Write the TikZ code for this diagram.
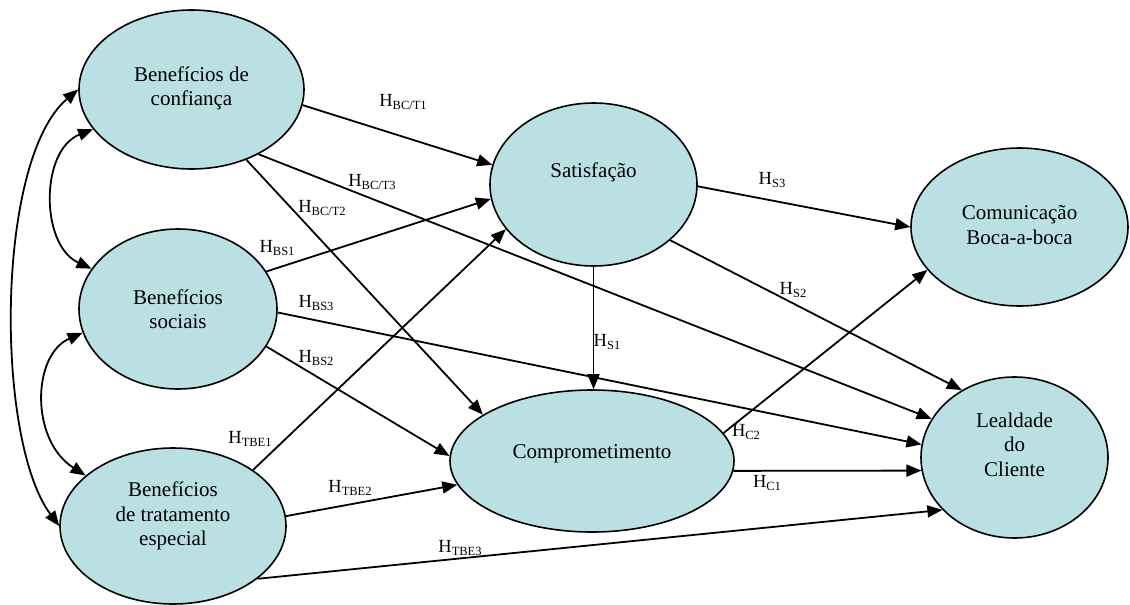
\documentclass[tikz,border=0pt]{standalone}
\usepackage{fontspec}
\setmainfont{Liberation Serif}
\usetikzlibrary{shapes.geometric,arrows.meta}
\definecolor{constructfill}{RGB}{186,224,228}

% hypothesis label: H with a lowered, smaller index
\newcommand{\hyplabel}[1]{H\raisebox{-2.8pt}{\fontsize{12.5}{12.5}\selectfont #1}}

\begin{document}
\begin{tikzpicture}[x=1pt,y=-1pt,
  construct/.style={ellipse, draw=black, line width=1.6pt, fill=constructfill, inner sep=0pt},
  txt/.style={align=center, font=\fontsize{21}{24.5}\selectfont, inner sep=0pt},
  link/.style={line width=1.8pt, -{Triangle[length=15pt,width=12pt]}},
  bothway/.style={line width=1.8pt, {Triangle[length=15pt,width=12pt]}-{Triangle[length=15pt,width=12pt]}},
  hyp/.style={font=\fontsize{18.5}{19}\selectfont, inner sep=0pt}
]
\useasboundingbox (0,0) rectangle (1130,605);

% constructs
\node[construct, minimum width=225pt, minimum height=159pt,
      label={[txt,yshift=1pt]center:Benefícios de\\confiança}] (bc) at (191.5,89.5) {};
\node[construct, minimum width=198pt, minimum height=160pt,
      label={[txt]center:Benefícios\\sociais}] (bs) at (178,309) {};
\node[construct, minimum width=226pt, minimum height=156pt,
      label={[txt,yshift=10pt]center:Benefícios\\de tratamento\\especial}] (te) at (173,526) {};
\node[construct, minimum width=207pt, minimum height=163pt,
      label={[txt,yshift=12pt]center:Satisfação}] (sat) at (593.5,184.5) {};
\node[construct, minimum width=284pt, minimum height=142pt,
      label={[txt,yshift=7pt]center:Comprometimento}] (cm) at (592,461) {};
\node[construct, minimum width=217pt, minimum height=158pt,
      label={[txt,yshift=2pt]center:Comunicação\\Boca-a-boca}] (cw) at (1019.5,227) {};
\node[construct, minimum width=187pt, minimum height=161pt,
      label={[txt,yshift=13pt]center:Lealdade\\do\\Cliente}] (ll) at (1014.5,457.5) {};

% correlations between the relational benefits
\draw[bothway] (bc.180) .. controls (-5,160) and (-5,440) .. (te.180);
\draw[bothway] (bc.202.2) .. controls (40,150) and (40,245) .. (bs.155.5);
\draw[bothway] (bs.194.2) .. controls (32,355) and (30,440) .. (te.150.7);

% hypothesised paths
\draw[link] (bc.-8) -- (sat.169.4);
\draw[link] (bc.-44.6) -- (ll.155.8);
\draw[link] (bc.-52.6) -- (cm.157.8);
\draw[link] (bs.23.1) -- (sat.188.5);
\draw[link] (bs.-2.9) -- (ll.172);
\draw[link] (bs.-23.1) -- (cm.178.8);
\draw[link] (te.35) -- (sat.207.8);
\draw[link] (te.5.6) -- (cm.190.3);
\draw[link] (te.-32.3) -- (ll.216.8);
\draw[link] (sat.south) -- (sat.south |- cm.north);
\draw[link] (sat.-1.4) -- (cw.180);
\draw[link] (sat.-36) -- (ll.128.9);
\draw[link] (cm.12.7) -- (cw.205.4);
\draw[link] (cm.-4.5) -- (ll.188.8);

% hypothesis labels
\node[hyp] (hbct1) at (403,102) {\hyplabel{BC/T1}};
\node[hyp] (hbct3) at (372,182) {\hyplabel{BC/T3}};
\node[hyp] (hbct2) at (322,208) {\hyplabel{BC/T2}};
\node[hyp] (hbs1)  at (277,248) {\hyplabel{BS1}};
\node[hyp] (hbs3)  at (316,303) {\hyplabel{BS3}};
\node[hyp] (hbs2)  at (316,358) {\hyplabel{BS2}};
\node[hyp] (htbe1) at (250,439) {\hyplabel{TBE1}};
\node[hyp] (htbe2) at (350,488) {\hyplabel{TBE2}};
\node[hyp] (htbe3) at (460,548) {\hyplabel{TBE3}};
\node[hyp] (hs1)   at (607,342) {\hyplabel{S1}};
\node[hyp] (hs3)   at (772,180) {\hyplabel{S3}};
\node[hyp] (hs2)   at (793,290) {\hyplabel{S2}};
\node[hyp] (hc2)   at (746,432) {\hyplabel{C2}};
\node[hyp] (hc1)   at (767,483) {\hyplabel{C1}};
\end{tikzpicture}
\end{document}
